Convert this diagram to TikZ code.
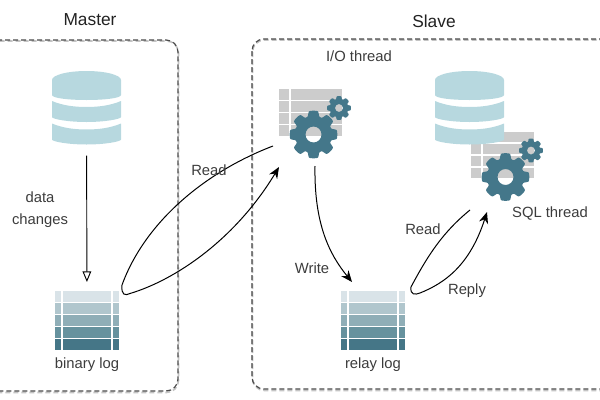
\documentclass[tikz,border=0pt]{standalone}
\usepackage{fontspec}
\setmainfont{Liberation Sans}
\usetikzlibrary{arrows.meta,positioning}
\definecolor{ink}{HTML}{222222}
\definecolor{sub}{HTML}{3C3C3C}
\definecolor{edge}{HTML}{4A4A4A}
\definecolor{haze}{HTML}{C4C4C4}
\definecolor{dbcol}{HTML}{B7D8DF}
\definecolor{gearcol}{HTML}{44778A}
\definecolor{tablecol}{HTML}{CCCCCC}
\definecolor{logA}{HTML}{D9E3E8}
\definecolor{logB}{HTML}{B0C6CD}
\definecolor{logC}{HTML}{8FAEB7}
\definecolor{logD}{HTML}{66929E}
\definecolor{logE}{HTML}{457687}

\tikzset{
  % three stacked discs
  dbstack/.pic={
    \fill[dbcol] (-34.5,-28) .. controls (-34.5,-33) and (-19,-37) .. (0,-37)
      .. controls (19,-37) and (34.5,-33) .. (34.5,-28) -- (34.5,-13)
      .. controls (34.5,-10) and (19,-8) .. (0,-8)
      .. controls (-19,-8) and (-34.5,-10) .. (-34.5,-13) -- cycle;
    \foreach \dy in {0,22.5} {
      \fill[dbcol,shift={(0,\dy)}] (-34.5,-7) .. controls (-25,-3) and (-14,-1) .. (0,-1)
        .. controls (14,-1) and (25,-3) .. (34.5,-7) -- (34.5,9)
        .. controls (34.5,11) and (19,14) .. (0,14)
        .. controls (-19,14) and (-34.5,11) .. (-34.5,9) -- cycle;
    }
  },
  % graded log rows
  logstack/.pic={
    \foreach \n/\c in {0/logA,1/logB,2/logC,3/logD,4/logE} {
      \fill[\c] (-32,{-29.5+12*\n}) rectangle (32,{-19+12*\n});
    }
    \draw[white,line width=1.1pt] (-25,-30) -- (-25,30) (25,-30) -- (25,30);
  },
  gearwheel/.pic={
    \fill[gearcol,even odd rule] plot[domain=0:360,samples=181]
      (\x:{21+2.8*tanh(2.6*(cos(8*\x)+0.45))}) -- cycle (0,0) circle (8);
  },
  % grey table with one large and one small gear
  threadicon/.pic={
    \foreach \n in {0,1,2,3} {
      \fill[tablecol] (-31.5,{-24+12*\n}) rectangle (31.5,{-13.5+12*\n});
    }
    \draw[white,line width=1.1pt] (-20.5,-24) -- (-20.5,24);
    \pic at (3,21.5) {gearwheel};
    \pic[scale=.5] at (28.5,-5) {gearwheel};
  },
}

\begin{document}
\begin{tikzpicture}[
  x=0.75pt, y=-0.75pt,
  panel/.style={draw=edge, line width=0.9pt, rounded corners=9pt, dash pattern=on 3.75pt off 2.25pt},
  panelhaze/.style={panel, draw=haze, line width=1.2pt},
  dbnode/.style={minimum width=51.75pt, minimum height=54.75pt, inner sep=0pt, outer sep=0pt},
  lognode/.style={minimum width=48pt, minimum height=44.25pt, inner sep=0pt, outer sep=0pt},
  threadnode/.style={minimum width=47.25pt, minimum height=51.75pt, inner sep=0pt, outer sep=0pt},
  head/.style={text=ink, font=\fontsize{13}{15}\selectfont},
  lbl/.style={text=sub, font=\fontsize{11.1}{16.5}\selectfont, align=center},
  ar/.style={-{Stealth[length=8.5pt,width=7pt]}, draw=black, line width=0.75pt},
  openar/.style={-{Triangle[open,length=8pt,width=6.5pt]}, draw=black, line width=0.7pt},
]
\useasboundingbox (0,0) rectangle (600,400);
\clip (0,0) rectangle (600,400);

% dashed containers
\draw[panelhaze] (-20.5,41) rectangle (178.5,392.5);
\draw[panelhaze] (252.5,40) rectangle (640,390.5);
\draw[panel] (-20,40) rectangle (178,391);
\draw[panel] (252,39) rectangle (640,389);
\node[head] at (90,20) (masterhead) {Master};
\node[head] at (434,21) (slavehead) {Slave};

% master side
\node[dbnode] (masterdb) at (86.5,108) {};
\node[lognode] (binlog) at (87,320.5) {};
\node[lbl, below=2.5pt of binlog] (binlbl) {binary log};
\pic at (masterdb) {dbstack};
\pic at (binlog) {logstack};

% slave side
\node[threadnode] (ioicon) at (310.5,123.5) {};
\node[threadnode] (sqlicon) at (502.5,165) {};
\node[dbnode] (slavedb) at (469.5,108) {};
\node[lognode] (relaylog) at (373,320.5) {};
\node[lbl, below=2.5pt of relaylog] (relaylbl) {relay log};
\pic at (310.5,113) {threadicon};
\pic at (502.5,155.5) {threadicon};
\pic at (slavedb) {dbstack};
\pic at (relaylog) {logstack};

\node[lbl] (iolbl) at (359,56) {I/O thread};
\node[lbl] (sqllbl) at (550,214) {SQL thread};

% connectors
\coordinate (binturn) at ([shift={(3,-6)}]binlog.north east);
\coordinate (relayturn) at ([shift={(6,-4)}]relaylog.north east);
\draw[openar, shorten <=8.25pt, shorten >=6.75pt] (masterdb) -- (binlog);
\draw[ar] ([shift={(-6,-12)}]ioicon.south west) .. controls (205,172) and (145,222) .. (binturn)
  .. controls (121,295) and (125,296) .. (130,293.5)
  .. controls (175,280) and (235,240) .. ([shift={(0,9)}]ioicon.south west);
\draw[ar] ([shift={(4.5,8)}]ioicon.south) .. controls (314,225) and (330,255) .. ([shift={(11,-9)}]relaylog.north west);
\draw[ar] ([shift={(-32.5,10.5)}]sqlicon.south) .. controls (443,232) and (428,255) .. (relayturn)
  .. controls (410,295) and (415,295) .. (420,293)
  .. controls (445,283) and (470,265) .. ([shift={(-15.5,12.5)}]sqlicon.south);

\node[lbl] (datalbl) at (40,210) {data\\changes};
\node[lbl] (readlbl) at (209,170) {Read};
\node[lbl] (writelbl) at (312,268) {Write};
\node[lbl] (readbacklbl) at (423,229) {Read};
\node[lbl] (replylbl) at (467,291) {Reply};
\end{tikzpicture}
\end{document}
